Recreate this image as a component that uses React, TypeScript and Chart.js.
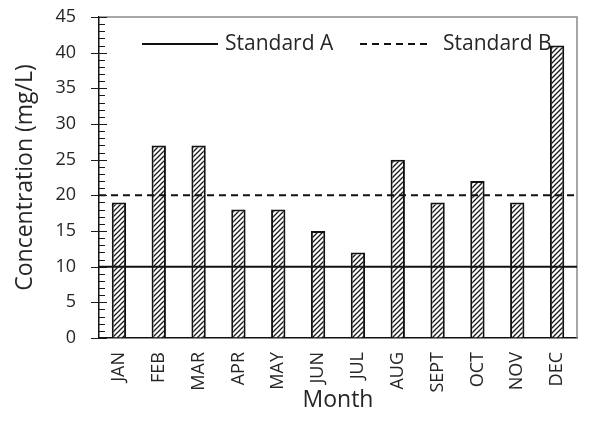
import React, { useEffect, useRef } from "react";
import { Chart, registerables } from "chart.js";

Chart.register(...registerables);

// Monthly concentrations and the two reference standards (mg/L)
const months = ["JAN", "FEB", "MAR", "APR", "MAY", "JUN", "JUL", "AUG", "SEPT", "OCT", "NOV", "DEC"];
const concentration = [19, 27, 27, 18, 18, 15, 12, 25, 19, 22, 19, 41];
const standardA = 10;
const standardB = 20;
const yMin = 0;
const yMax = 45;
const yStep = 5;

const FONT = "'Open Sans', 'DejaVu Sans', sans-serif";
const TEXT = "#262626";

// Month positions on a linear axis, one unit per month
const monthIndex = months.map((_, i) => i);
const xMin = -0.5;
const xMax = months.length - 0.5;

function makeHatch(): CanvasPattern | string {
  const c = document.createElement("canvas");
  const s = 5;
  c.width = s;
  c.height = s;
  const ctx = c.getContext("2d");
  if (!ctx) return "#fff";
  ctx.fillStyle = "#ffffff";
  ctx.fillRect(0, 0, s, s);
  ctx.strokeStyle = "#1a1a1a";
  ctx.lineWidth = 1.3;
  ctx.beginPath();
  ctx.moveTo(0, s);
  ctx.lineTo(s, 0);
  ctx.moveTo(-1, 1);
  ctx.lineTo(1, -1);
  ctx.moveTo(s - 1, s + 1);
  ctx.lineTo(s + 1, s - 1);
  ctx.stroke();
  return ctx.createPattern(c, "repeat") || "#fff";
}

// Frame (top/right in grey) and y-axis tick marks: majors cross the axis, minors point inward
const framePlugin = {
  id: "frame",
  beforeDatasetsDraw(chart: any) {
    const { ctx, chartArea: a } = chart;
    ctx.save();
    ctx.strokeStyle = "#8a8a8a";
    ctx.lineWidth = 1.5;
    ctx.beginPath();
    ctx.moveTo(a.left, a.top);
    ctx.lineTo(a.right, a.top);
    ctx.lineTo(a.right, a.bottom);
    ctx.stroke();

    const y = chart.scales.y;
    ctx.strokeStyle = "#1a1a1a";
    ctx.lineWidth = 1.2;
    ctx.beginPath();
    for (let v = yMin; v <= yMax; v += 1) {
      const py = Math.round(y.getPixelForValue(v)) + 0.5;
      if (v % yStep === 0) {
        ctx.moveTo(a.left - 8, py);
        ctx.lineTo(a.left + 8, py);
      } else {
        ctx.moveTo(a.left, py);
        ctx.lineTo(a.left + 6, py);
      }
    }
    ctx.stroke();
    ctx.restore();
  },
};

// Legend for the two standards, drawn inside the plot area
const standardsLegend = {
  id: "standardsLegend",
  afterDatasetsDraw(chart: any) {
    const { ctx, chartArea: a } = chart;
    const ly = a.top + 27;
    const entries = [
      { ds: chart.data.datasets[1], x0: a.left + 43, x1: a.left + 119, gap: 7 },
      { ds: chart.data.datasets[2], x0: a.left + 261, x1: a.left + 333, gap: 11 },
    ];
    ctx.save();
    ctx.font = `21px ${FONT}`;
    ctx.textBaseline = "middle";
    ctx.textAlign = "left";
    for (const e of entries) {
      ctx.strokeStyle = e.ds.borderColor;
      ctx.lineWidth = e.ds.borderWidth;
      ctx.setLineDash(e.ds.borderDash || []);
      ctx.beginPath();
      ctx.moveTo(e.x0, ly);
      ctx.lineTo(e.x1, ly);
      ctx.stroke();
      ctx.setLineDash([]);
      ctx.fillStyle = TEXT;
      ctx.fillText(e.ds.label, e.x1 + e.gap, ly);
    }
    ctx.restore();
  },
};

export default function App() {
  const ref = useRef<HTMLCanvasElement | null>(null);

  useEffect(() => {
    const canvas = ref.current;
    if (!canvas) return;
    const hatch = makeHatch();
    const chart = new Chart(canvas, {
      type: "bar",
      data: {
        datasets: [
          {
            type: "bar",
            label: "Concentration",
            data: monthIndex.map((i) => ({ x: i, y: concentration[i] })),
            backgroundColor: hatch as any,
            borderColor: "#111111",
            borderWidth: 2,
            barPercentage: 0.36,
            categoryPercentage: 1,
            order: 2,
          } as any,
          {
            type: "line",
            label: "Standard A",
            data: [
              { x: xMin, y: standardA },
              { x: xMax, y: standardA },
            ],
            borderColor: "#111111",
            borderWidth: 2,
            pointRadius: 0,
            order: 1,
          } as any,
          {
            type: "line",
            label: "Standard B",
            data: [
              { x: xMin, y: standardB },
              { x: xMax, y: standardB },
            ],
            borderColor: "#111111",
            borderWidth: 2,
            borderDash: [7, 5],
            pointRadius: 0,
            order: 1,
          } as any,
        ],
      },
      options: {
        responsive: false,
        animation: false,
        layout: { padding: { left: 0, right: 12, top: 17, bottom: 0 } },
        plugins: { legend: { display: false }, tooltip: { enabled: false } },
        scales: {
          x: {
            type: "linear",
            min: xMin,
            max: xMax,
            offset: false,
            grid: {
              display: true,
              drawOnChartArea: false,
              drawTicks: true,
              tickLength: 13,
              color: "rgba(0,0,0,0)",
            },
            border: { display: true, color: "#111111", width: 1.5 },
            afterBuildTicks: (s: any) => {
              s.ticks = monthIndex.map((i) => ({ value: i }));
            },
            ticks: {
              autoSkip: false,
              minRotation: 90,
              maxRotation: 90,
              padding: 1,
              color: TEXT,
              font: { family: FONT, size: 18 },
              callback: (v: any) => months[Math.round(Number(v))] ?? "",
            },
            title: {
              display: true,
              text: "Month",
              color: TEXT,
              font: { family: FONT, size: 23 },
              padding: { top: 0, bottom: 21 },
            },
            afterFit: (s: any) => {
              s.height = 97;
            },
          },
          y: {
            min: yMin,
            max: yMax,
            grid: {
              display: true,
              drawOnChartArea: false,
              drawTicks: true,
              tickLength: 20,
              color: "rgba(0,0,0,0)",
            },
            border: { display: true, color: "#111111", width: 1.5 },
            ticks: {
              stepSize: yStep,
              padding: 3,
              color: TEXT,
              font: { family: FONT, size: 18 },
            },
            title: {
              display: true,
              text: "Concentration (mg/L)",
              color: TEXT,
              font: { family: FONT, size: 23 },
              padding: { top: 12, bottom: 0 },
            },
            afterFit: (s: any) => {
              s.width = 99;
            },
          },
        },
      },
      plugins: [framePlugin, standardsLegend],
    });
    return () => chart.destroy();
  }, []);

  return (
    <div style={{ position: "absolute", left: 0, top: 0, width: 589, height: 435, background: "#fff" }}>
      <canvas ref={ref} width={589} height={435} style={{ display: "block" }} />
    </div>
  );
}
